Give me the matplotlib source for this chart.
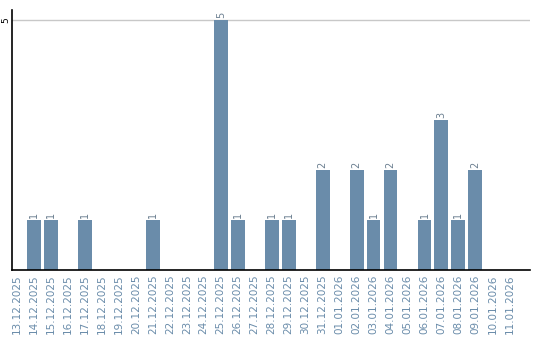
import matplotlib
matplotlib.use('Agg')
import matplotlib.pyplot as plt

dates = ['13.12.2025', '14.12.2025', '15.12.2025', '16.12.2025', '17.12.2025',
         '18.12.2025', '19.12.2025', '20.12.2025', '21.12.2025', '22.12.2025',
         '23.12.2025', '24.12.2025', '25.12.2025', '26.12.2025', '27.12.2025',
         '28.12.2025', '29.12.2025', '30.12.2025', '31.12.2025', '01.01.2026',
         '02.01.2026', '03.01.2026', '04.01.2026', '05.01.2026', '06.01.2026',
         '07.01.2026', '08.01.2026', '09.01.2026', '10.01.2026', '11.01.2026']
counts = [0, 1, 1, 0, 1, 0, 0, 0, 1, 0, 0, 0, 5, 1, 0,
          1, 1, 0, 2, 0, 2, 1, 2, 0, 1, 3, 1, 2, 0, 0]

bar_color = '#6a8caa'

fig = plt.figure(figsize=(5.4, 3.4), dpi=100)
ax = fig.add_axes([0.022, 0.206, 0.959, 0.764])
x_pos = list(range(len(dates)))
ax.bar(x_pos, counts, width=0.82, color=bar_color, zorder=2)
for x, c in zip(x_pos, counts):
    if c > 0:
        ax.text(x, c + 0.04, str(c), rotation=90, ha='center', va='bottom',
                fontsize=7, color='#6b7f90')

ax.set_xlim(-0.3, 30.2)
ax.set_ylim(0, 5.2)
ax.set_yticks([5])
ax.set_yticklabels(['5'], rotation=90, va='center', fontsize=6.5)
ax.grid(axis='y', color='#c8c8c8', linewidth=1, zorder=0)
ax.set_xticks(x_pos)
ax.set_xticklabels(dates, rotation=90, fontsize=7.5, color=bar_color)
ax.tick_params(axis='x', length=0, pad=3)
ax.tick_params(axis='y', length=0, pad=1)
ax.spines['top'].set_visible(False)
ax.spines['right'].set_visible(False)
ax.spines['left'].set_linewidth(1.2)
ax.spines['bottom'].set_linewidth(1.2)

plt.savefig('out.png', dpi=100)
